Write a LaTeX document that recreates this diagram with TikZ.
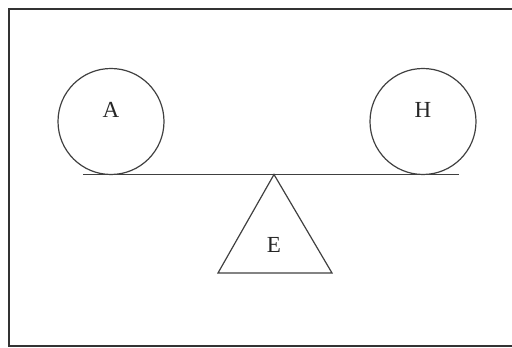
\documentclass[tikz,border=0pt]{standalone}
\usepackage{fontspec}
\setmainfont{Liberation Serif}
\usetikzlibrary{positioning}

\begin{document}
\begin{tikzpicture}[x=1pt, y=1pt,
    ball/.style={circle, draw=black!75, line width=1.2pt, minimum size=106pt, inner sep=0pt},
    letter/.style={font=\fontsize{23}{27}\selectfont, text=black!85},
    rod/.style={draw=black!75, line width=1.5pt},
    pivot/.style={draw=black!75, line width=1.2pt, line join=miter}]
    \useasboundingbox (0,0) rectangle (512,348);

    % Frame
    \draw[black!80, line width=2pt] (514,339) -- (9,339) -- (9,2) -- (514,2);

    % Balls
    \node[ball] (A) at (111,226.5) {};
    \node[ball] (H) at (423,226.5) {};
    \node[letter] (labA) at ([yshift=12pt]A.center) {A};
    \node[letter] (labH) at ([yshift=12pt]H.center) {H};

    % Beam
    \coordinate (beamL) at (83,173.5);
    \coordinate (beamR) at (459,173.5);
    \draw[rod] (beamL) -- (beamR);

    % Fulcrum
    \coordinate (apex) at (274,173.5);
    \coordinate (baseL) at (218,75);
    \coordinate (baseR) at (332,75);
    \draw[pivot] (apex) -- (baseL) -- (baseR) -- cycle;
    \node[letter] (labE) at (274,103) {E};
\end{tikzpicture}
\end{document}
